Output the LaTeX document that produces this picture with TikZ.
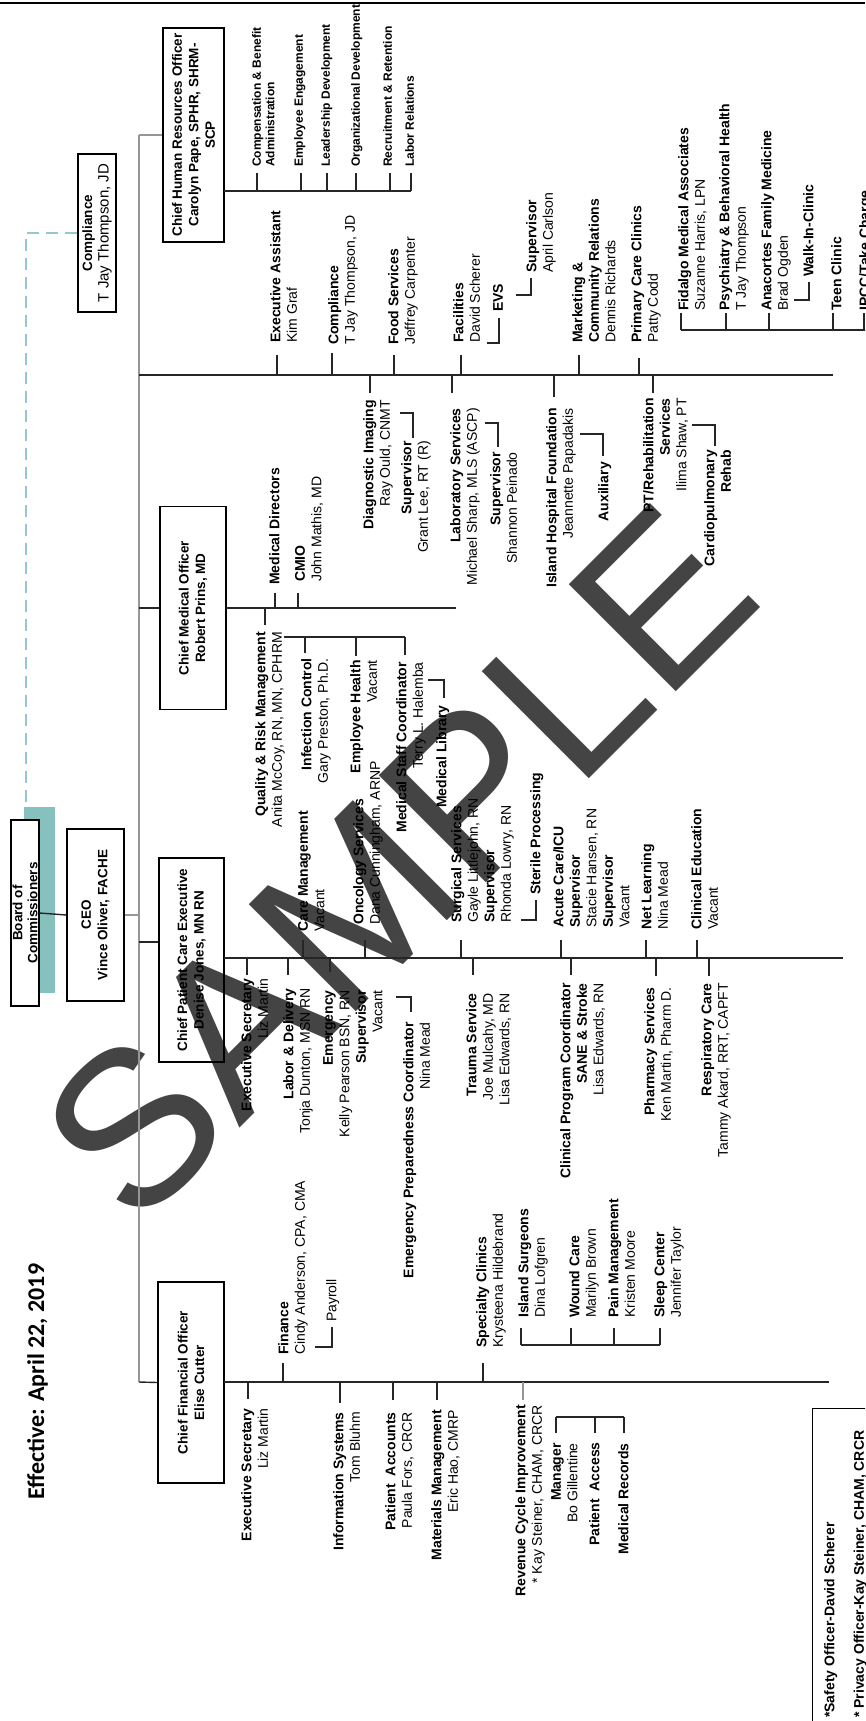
\documentclass[tikz,border=0pt]{standalone}
\usepackage{fontspec}
\setmainfont{Liberation Sans}
\newfontfamily\calib{Carlito}
\definecolor{teal1}{RGB}{135,193,190}
\definecolor{dashc}{RGB}{150,198,208}
\definecolor{wm}{RGB}{68,68,68}
\definecolor{trunkc}{RGB}{150,150,150}
\newcommand\mytick[3]{\draw[ln] (#1,#2) -- (#1,#3);}
\newcommand\mybrk[4]{\draw[ln] (#1,#2) -- (#3,#2) -- (#3,#4);}
\begin{document}
\begin{tikzpicture}[x=1pt,y=-1pt,
  ln/.style={line width=1.4pt, draw=black!85},
  trunk/.style={line width=1.4pt, draw=trunkc},
  box/.style={draw, line width=1.4pt, rotate=90, align=center, inner sep=0pt,
     font=\fontsize{13.5}{16.5}\selectfont},
  lu/.style={rotate=90, anchor=north west, align=left, inner sep=0pt,
     font=\fontsize{14}{16.5}\selectfont},
  ld/.style={rotate=90, anchor=north east, align=right, inner sep=0pt,
     font=\fontsize{14}{16.5}\selectfont},
  hr/.style={rotate=90, anchor=north west, align=left, inner sep=0pt,
     font=\fontsize{12}{13.5}\selectfont\bfseries}]
\useasboundingbox (0,0) rectangle (865,1721);
\clip (0,0) rectangle (865,1721);
\fill[white] (0,0) rectangle (865,1721);

% watermark
\node[rotate=45, text=wm, font=\fontsize{220}{220}\selectfont, inner sep=0pt] (wmark) at (398,863) {SAMPLE};

% top rule
\coordinate (topL) at (0,3); \coordinate (topR) at (865,3);
\draw[line width=2pt] (topL) -- (topR);

% boxes
\node[fill=teal1, minimum width=31pt, minimum height=186pt, inner sep=0pt, anchor=north west] (tealbar) at (24,807) {};
\node[box, fill=white, minimum width=186pt, minimum height=28pt, font=\fontsize{13.5}{15}\selectfont\bfseries] (board) at (25,913) {Board of\\Commissioners};
\node[box, minimum width=172pt, minimum height=57pt] (ceo) at (95.5,915) {\textbf{CEO}\\\textbf{Vince Oliver, FACHE}};
\node[box, minimum width=214pt, minimum height=61pt] (chro) at (193.5,135) {\textbf{Chief Human Resources Officer}\\\textbf{Carolyn Pape, SPHR, SHRM-}\\\textbf{SCP}};
\node[box, minimum width=158pt, minimum height=38pt] (compl) at (97,233) {\textbf{Compliance}\\{\fontsize{15}{16.5}\selectfont T Jay Thompson, JD}};
\node[box, minimum width=203pt, minimum height=66pt] (cmo) at (193,608) {\textbf{Chief Medical Officer}\\\textbf{Robert Prins, MD}};
\node[box, minimum width=204pt, minimum height=65pt] (cpce) at (191.5,960) {\textbf{Chief Patient Care Executive}\\\textbf{Denise Jones, MN RN}};
\node[box, minimum width=201pt, minimum height=66pt] (cfo) at (191,1382.5) {\textbf{Chief Financial Officer}\\\textbf{Elise Cutter}};

% dashed link
\coordinate (dashEnd) at (26,807);
\draw[dashc, line width=2pt, dash pattern=on 12pt off 7pt] (compl.north) -| (dashEnd);

% trunk and main connectors
\coordinate (tTop) at (139,135);
\coordinate (tBot) at (139,1382);
\coordinate (jP) at (139,942);
\draw[trunk] (tTop) -- (tBot);
\draw[trunk] (tTop) -- (chro.north);
\draw[ln] (board.south) -- (ceo.north);
\draw[trunk] (ceo.south) -- (ceo.south -| tTop);
\draw[ln] (cmo.north) -- (cmo.north -| tTop);
\draw[ln] (jP) -- (jP -| cpce.north);
\draw[ln] (tBot) -- (cfo.north);

% branch lines
\coordinate (H0) at (224,191); \coordinate (H1) at (411,191);
\coordinate (U0) at (139,375); \coordinate (U1) at (833,375);
\coordinate (M0) at (226,608); \coordinate (M1) at (456,608);
\coordinate (Q0) at (284,637); \coordinate (Q1) at (405,637);
\coordinate (P0) at (224,958); \coordinate (P1) at (843,958);
\coordinate (F0) at (224,1382); \coordinate (F1) at (829,1382);
\coordinate (S0) at (681,330); \coordinate (S1) at (870,330);
\coordinate (C0) at (521,1345); \coordinate (C1) at (660,1345);
\coordinate (R0) at (556,1417); \coordinate (R1) at (624,1417);
\draw[ln] (H0) -- (H1);
\draw[ln] (U0) -- (U1);
\draw[ln] (M0) -- (M1);
\draw[ln] (Q0) -- (Q1);
\draw[ln] (P0) -- (P1);
\draw[ln] (F0) -- (F1);
\draw[ln] (S0) -- (S1);
\draw[ln] (C0) -- (C1);
\draw[ln] (R0) -- (R1);

% HR
\node[hr] (hr1) at (252,167) {Compensation \& Benefit\\Administration};
\node[hr] (hr2) at (294,167) {Employee Engagement};
\node[hr] (hr3) at (321,167) {Leadership Development};
\node[hr] (hr4) at (351,167) {Organizational Development};
\node[hr] (hr5) at (383,167) {Recruitment \& Retention};
\node[hr] (hr6) at (405,167) {Labor Relations};
\mytick{257}{191}{173}\mytick{301}{191}{173}\mytick{327}{191}{173}
\mytick{356}{191}{173}\mytick{390}{191}{173}\mytick{411}{191}{173}

% upper line, above
\node[lu] (ea) at (270,343) {\textbf{Executive Assistant}\\Kim Graf};
\node[lu] (comp2) at (328,345) {\textbf{Compliance}\\T Jay Thompson, JD};
\node[lu] (food) at (388,345) {\textbf{Food Services}\\Jeffrey Carpenter};
\node[lu] (fac) at (453,343) {\textbf{Facilities}\\David Scherer};
\node[lu] (evs) at (493,312) {\textbf{EVS}};
\node[lu] (sup1) at (526,273) {\textbf{Supervisor}\\April Carlson};
\node[lu] (mkt) at (572,343) {\textbf{Marketing \&}\\\textbf{Community Relations}\\Dennis Richards};
\node[lu] (pcc) at (631,343) {\textbf{Primary Care Clinics}\\Patty Codd};
\node[lu] (fid) at (678,311) {\textbf{Fidalgo Medical Associates}\\Suzanne Harris, LPN};
\node[lu] (psy) at (719,311) {\textbf{Psychiatry \& Behavioral Health}\\T Jay Thompson};
\node[lu] (ana) at (761,311) {\textbf{Anacortes Family Medicine}\\Brad Ogden};
\node[lu] (walk) at (803,277) {\textbf{Walk-In-Clinic}};
\node[lu] (teen) at (831,311) {\textbf{Teen Clinic}};
\node[lu] (ipcc) at (859,311) {\textbf{IPCC/Take Charge}};
\mytick{277}{375}{355}\mytick{332}{375}{353}\mytick{394}{375}{355}
\mytick{461}{375}{355}\mytick{579}{375}{355}\mytick{639}{375}{358}
\mybrk{487}{343}{499}{318}
\mybrk{516}{295}{531}{278}
\mybrk{794}{300}{809}{282}
\mytick{681}{330}{313}\mytick{726}{330}{313}\mytick{769}{330}{313}
\mytick{833}{330}{313}\mytick{864}{330}{313}

% upper line, below
\node[ld] (diag) at (363,400) {\textbf{Diagnostic Imaging}\\Ray Ould, CNMT};
\node[ld] (sup2) at (401,441) {\textbf{Supervisor}\\Grant Lee, RT (R)};
\node[ld] (lab) at (450,408) {\textbf{Laboratory Services}\\Michael Sharp, MLS (ASCP)};
\node[ld] (sup3) at (490,452) {\textbf{Supervisor}\\Shannon Peinado};
\node[ld] (ihf) at (546,408) {\textbf{Island Hospital Foundation}\\Jeannette Papadakis};
\node[ld] (aux) at (598,462) {\textbf{Auxiliary}};
\node[ld] (pt) at (643,398) {\textbf{PT/Rehabilitation}\\\textbf{Services}\\Ilima Shaw, PT};
\node[ld] (cardio) at (704,450) {\textbf{Cardiopulmonary}\\\textbf{Rehab}};
\mytick{370}{375}{393}\mytick{452}{375}{393}\mytick{554}{375}{397}\mytick{653}{375}{393}
\mybrk{400}{413}{413}{438}
\mybrk{485}{423}{498}{447}
\mybrk{580}{434}{603}{456}
\mybrk{692}{425}{715}{446}

% CMO
\node[lu] (md) at (269,585) {\textbf{Medical Directors}};
\node[lu] (cmio) at (295,582) {\textbf{CMIO}\\John Mathis, MD};
\node[ld] (qrm) at (255,632) {\textbf{Quality \& Risk Management}\\Anita McCoy, RN, MN, CPHRM};
\node[ld] (inf) at (301,658) {\textbf{Infection Control}\\Gary Preston, Ph.D.};
\node[ld] (eh) at (350,660) {\textbf{Employee Health}\\Vacant};
\node[ld] (msc) at (396,662) {\textbf{Medical Staff Coordinator}\\Terry L. Halemba};
\node[ld] (mlib) at (436,705) {\textbf{Medical Library}};
\mytick{275}{608}{593}\mytick{298}{608}{593}\mytick{265}{608}{625}
\mytick{305}{637}{653}\mytick{356}{637}{656}\mytick{405}{637}{655}
\mybrk{428}{680}{444}{698}

% CPCE, below
\node[ld] (es1) at (241,978) {\textbf{Executive Secretary}\\Liz Martin};
\node[ld] (ld1) at (283,988) {\textbf{Labor \& Delivery}\\Tonja Dunton, MSN RN};
\node[ld] (emer) at (323,990) {\textbf{Emergency}\\Kelly Pearson BSN, RN\\\textbf{Supervisor}\\Vacant};
\node[ld] (epc) at (403,1022) {\textbf{Emergency Preparedness Coordinator}\\Nina Mead};
\node[ld] (trauma) at (466,993) {\textbf{Trauma Service}\\Joe Mulcahy, MD\\Lisa Edwards, RN};
\node[ld] (cpc) at (560,983) {\textbf{Clinical Program Coordinator}\\\textbf{SANE \& Stroke}\\Lisa Edwards, RN};
\node[ld] (pharm) at (644,987) {\textbf{Pharmacy Services}\\Ken Martin, Pharm D.};
\node[ld] (resp) at (701,983) {\textbf{Respiratory Care}\\Tammy Akard, RRT, CAPFT};
\mytick{247}{958}{975}\mytick{288}{958}{975}\mytick{330}{958}{972}
\mytick{473}{958}{975}\mytick{571}{958}{975}\mytick{656}{958}{976}\mytick{709}{958}{976}
\mybrk{396}{997}{411}{1012}

% CPCE, above
\node[lu] (cm) at (298,932) {\textbf{Care Management}\\Vacant};
\node[lu] (onc) at (353,925) {\textbf{Oncology Services}\\Dana Cunningham, ARNP};
\node[lu] (surg) at (451,923) {\textbf{Surgical Services}\\Gayle Littlejohn, RN\\\textbf{Supervisor}\\Rhonda Lowry, RN};
\node[lu] (ster) at (530,895) {\textbf{Sterile Processing}};
\node[lu] (acute) at (553,928) {\textbf{Acute Care/ICU}\\\textbf{Supervisor}\\Stacie Hansen, RN\\\textbf{Supervisor}\\Vacant};
\node[lu] (net) at (641,930) {\textbf{Net Learning}\\Nina Mead};
\node[lu] (ce) at (691,930) {\textbf{Clinical Education}\\Vacant};
\mytick{303}{958}{940}\mytick{365}{958}{940}\mytick{461}{958}{940}
\mytick{561}{958}{940}\mytick{646}{958}{940}\mytick{697}{958}{940}
\mybrk{521}{920}{536}{900}

% CFO, below
\node[ld] (es2) at (241,1408) {\textbf{Executive Secretary}\\Liz Martin};
\node[ld] (is) at (333,1412) {\textbf{Information Systems}\\Tom Bluhm};
\node[ld] (pa) at (385,1412) {\textbf{Patient~ Accounts}\\Paula Fors, CRCR};
\node[ld] (mm) at (431,1410) {\textbf{Materials Management}\\Eric Hao, CMRP};
\node[ld] (rci) at (515,1405) {\textbf{Revenue Cycle Improvement}\\* Kay Steiner, CHAM, CRCR};
\node[ld] (mgr) at (551,1443) {\textbf{Manager}\\Bo Gillentine};
\node[ld] (pacc) at (589,1442) {\textbf{Patient~ Access}};
\node[ld] (mr) at (618,1443) {\textbf{Medical Records}};
\mytick{248}{1382}{1399}\mytick{340}{1382}{1403}\mytick{393}{1382}{1400}
\mytick{437}{1382}{1400}
\draw[trunk] (523,1382) -- (523,1400);
\mytick{556}{1417}{1433}\mytick{595}{1417}{1433}\mytick{624}{1417}{1433}

% CFO, above
\node[lu] (fin) at (278,1355) {\textbf{Finance}\\Cindy Anderson, CPA, CMA};
\node[lu] (pay) at (326,1322) {Payroll};
\node[lu] (spec) at (476,1348) {\textbf{Specialty Clinics}\\Krysteena Hildebrand};
\node[lu] (isurg) at (518,1318) {\textbf{Island Surgeons}\\Dina Lofgren};
\node[lu] (wound) at (569,1318) {\textbf{Wound Care}\\Marilyn Brown};
\node[lu] (pain) at (608,1318) {\textbf{Pain Management}\\Kristen Moore};
\node[lu] (sleep) at (654,1318) {\textbf{Sleep Center}\\Jennifer Taylor};
\mytick{283}{1382}{1363}\mytick{483}{1382}{1363}
\mybrk{315}{1347}{332}{1327}
\mytick{521}{1345}{1328}\mytick{571}{1345}{1328}\mytick{614}{1345}{1328}\mytick{660}{1345}{1328}

% title and footnote
\node[rotate=90, anchor=north west, inner sep=0pt, font=\calib\bfseries\fontsize{24}{28}\selectfont] (eff) at (27,1500) {Effective: April 22, 2019};
\node[draw, line width=1.4pt, anchor=north west, minimum width=100pt, minimum height=360pt, inner sep=0pt] (fbox) at (812,1408) {};
\node[lu, font=\fontsize{14}{16.5}\selectfont\bfseries] (foot) at (824,1718) {*Safety Officer-David Scherer\\[13pt]* Privacy Officer-Kay Steiner, CHAM, CRCR};
\end{tikzpicture}
\end{document}
